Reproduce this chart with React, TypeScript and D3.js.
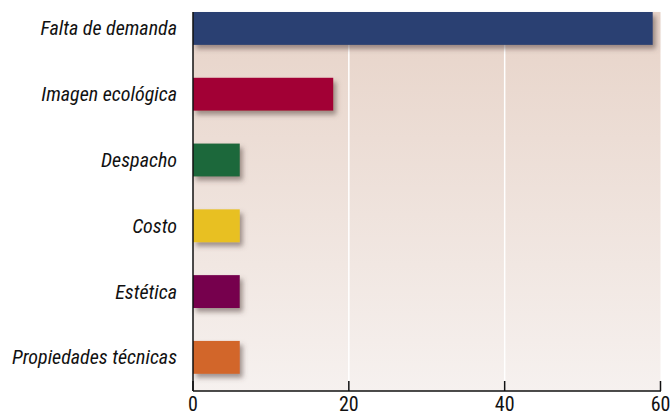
import React from "react";
import * as d3 from "d3";

const categories = [
  "Falta de demanda",
  "Imagen ecológica",
  "Despacho",
  "Costo",
  "Estética",
  "Propiedades técnicas",
];
const values = [59, 18, 6, 6, 6, 6];
const barColors = ["#2b4172", "#a20034", "#1d673b", "#e8c020", "#76004d", "#d2662b"];
const xTicks = [0, 20, 40, 60];

const W = 671;
const H = 416;
const left = 193;
const right = 660.5;
const top = 12;
const bottom = 391;

export default function App() {
  const x = d3.scaleLinear().domain([0, 60]).range([left, right]);
  const y = d3
    .scaleBand<string>()
    .domain(categories)
    .range([top, 373.8])
    .paddingInner(0.5)
    .paddingOuter(0);
  const font = "'Liberation Sans Narrow', 'Roboto Condensed', 'Liberation Sans', Arial, sans-serif";

  return (
    <svg
      width={W}
      height={H}
      style={{ position: "absolute", left: 0, top: 0, display: "block" }}
    >
      <defs>
        <linearGradient id="bg" x1="0" y1="0" x2="0" y2="1">
          <stop offset="0" stopColor="#e7d3c8" />
          <stop offset="1" stopColor="#f6f1ef" />
        </linearGradient>
        <filter id="shadow" x="-10%" y="-30%" width="130%" height="190%">
          <feDropShadow dx="3" dy="4" stdDeviation="2.5" floodColor="#5a4a44" floodOpacity="0.55" />
        </filter>
      </defs>
      <rect x={left} y={top} width={right - left} height={bottom - top} fill="url(#bg)" />
      {xTicks.slice(1, -1).map((t) => (
        <line key={t} x1={x(t)} x2={x(t)} y1={top} y2={bottom} stroke="#ffffff" strokeWidth={1.5} />
      ))}
      {categories.map((c, i) => (
        <rect
          key={c}
          x={x(0)}
          y={y(c)}
          width={x(values[i]) - x(0)}
          height={y.bandwidth()}
          fill={barColors[i]}
          filter="url(#shadow)"
        />
      ))}
      {categories.map((c) => (
        <text
          key={c}
          x={177}
          y={(y(c) as number) + y.bandwidth() / 2}
          textAnchor="end"
          dominantBaseline="central"
          fontFamily={font}
          fontStyle="italic"
          fontSize={20}
          fill="#111"
        >
          {c}
        </text>
      ))}
      <line x1={left} x2={left} y1={top} y2={bottom} stroke="#111" strokeWidth={1.5} />
      <line x1={left} x2={right + 0.5} y1={bottom} y2={bottom} stroke="#111" strokeWidth={1.5} />
      {xTicks.map((t) => (
        <g key={t}>
          <line x1={x(t)} x2={x(t)} y1={bottom - 10} y2={bottom} stroke="#111" strokeWidth={1.5} />
          <text
            x={x(t)}
            y={411}
            textAnchor={t === 60 ? "end" : "middle"}
            dx={t === 60 ? 10 : 0}
            fontFamily={font}
            fontSize={20}
            fill="#111"
          >
            {t}
          </text>
        </g>
      ))}
    </svg>
  );
}
